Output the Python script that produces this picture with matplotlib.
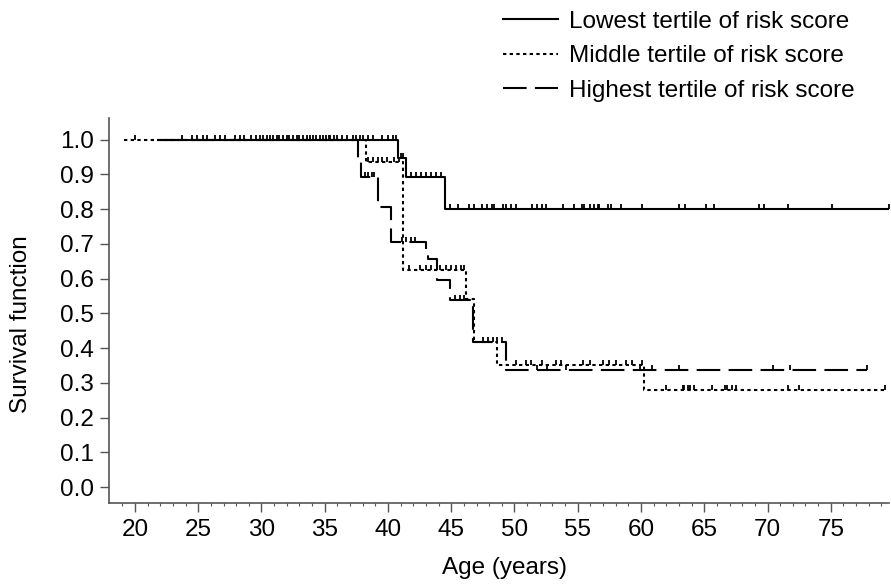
import numpy as np
import matplotlib
matplotlib.use("Agg")
import matplotlib.pyplot as plt
from matplotlib.path import Path
from matplotlib.lines import Line2D

plt.rcParams['font.family'] = ['Liberation Sans', 'DejaVu Sans']
plt.rcParams['lines.scale_dashes'] = False

# ---------------- data ----------------
group_labels = ["Lowest tertile of risk score",
                "Middle tertile of risk score",
                "Highest tertile of risk score"]

low_start, low_end = 21.8, 79.6
low_event_times = [40.8, 41.4, 44.5]
low_levels = [0.947, 0.892, 0.800]
low_censor = [23.7, 25.4, 26.7, 28.3, 29.6, 30.4, 31.2, 32.0, 32.8, 33.6, 34.3, 35.1,
              35.4, 36.4, 37.2, 38.0, 38.4, 38.8, 39.5, 40.0, 40.4, 40.6,
              41.0, 41.2,
              41.8, 42.2, 42.6, 43.0, 43.4, 43.8, 44.2,
              44.9, 45.5, 46.4, 46.8, 47.4, 47.8, 48.2, 48.4, 49.1, 49.3, 49.7, 50.1,
              51.4, 51.8, 52.2, 52.5, 53.8, 54.7, 55.3, 55.5, 56.0, 56.3, 56.6, 56.7,
              57.4, 57.6, 58.4, 60.1, 63.0, 63.5, 65.1, 65.8, 69.3, 69.7, 71.6, 75.1, 79.6]

mid_start, mid_end = 19.1, 79.3
mid_event_times = [38.3, 41.2, 46.2, 46.8, 48.6, 60.2]
mid_levels = [0.935, 0.624, 0.540, 0.418, 0.352, 0.279]
mid_censor = [20.0, 24.5, 25.7, 27.1, 28.6, 29.9, 30.7, 31.4, 32.2, 33.0, 33.8, 34.6,
              35.3, 36.0, 36.8, 37.8,
              38.4, 38.8, 39.2, 39.5, 39.9, 40.5, 40.9,
              41.7, 42.5, 43.0, 43.4, 44.1, 44.6, 45.0, 45.4, 45.8, 46.0,
              47.5, 48.3,
              50.1, 50.9, 51.3, 52.2, 53.3, 53.7, 55.4, 56.0, 57.0, 57.5, 58.0, 58.8,
              59.3, 60.1,
              62.0, 63.3, 63.4, 63.7, 63.9, 64.2, 65.6, 66.6, 66.8, 67.2, 67.5, 71.6,
              72.5, 79.3]

high_start, high_end = 22.0, 77.9
high_event_times = [37.6, 37.9, 39.2, 40.2, 43.0, 43.2, 43.9, 44.9, 46.7, 49.3]
high_levels = [0.947, 0.892, 0.806, 0.706, 0.680, 0.655, 0.596, 0.538, 0.418, 0.337]
high_censor = [24.9, 26.3, 27.9, 29.2, 30.1, 30.9, 31.7, 32.5, 33.3, 34.1, 34.9, 35.7,
               37.5,
               38.2, 38.4, 38.7, 38.9,
               41.1, 41.4, 41.8, 42.1,
               45.3, 45.7, 46.0,
               47.9, 48.6, 49.0,
               51.8, 52.6, 54.1, 59.9, 60.9, 63.0, 70.4, 71.8, 77.9]

x_ticks = [20, 25, 30, 35, 40, 45, 50, 55, 60, 65, 70, 75]
y_ticks = [0.0, 0.1, 0.2, 0.3, 0.4, 0.5, 0.6, 0.7, 0.8, 0.9, 1.0]

# ---------------- figure ----------------
W, H = 891, 584
FS = 17.5
fig = plt.figure(figsize=(W / 100, H / 100), dpi=100)
ax_l, ax_r, ax_b, ax_t = 109, 889, 503, 118
ax = fig.add_axes([ax_l / W, 1 - ax_b / H, (ax_r - ax_l) / W, (ax_b - ax_t) / H])

styles = [dict(linestyle='-'),
          dict(linestyle=(0, (2.4, 2.4))),
          dict(linestyle=(0, (17, 6)))]

tick_marker = Path([(0, 0), (0, 1)])
lw = 1.5

groups = [
    (low_start, low_end, low_event_times, low_levels, low_censor),
    (mid_start, mid_end, mid_event_times, mid_levels, mid_censor),
    (high_start, high_end, high_event_times, high_levels, high_censor),
]

for (start, end, ev, lev, cens), st, lab in zip(groups, styles, group_labels):
    times = np.array([start] + ev + [end])
    vals = np.array([1.0] + lev + [lev[-1]])
    ax.step(times, vals, where='post', color='black', lw=lw, **st)
    c = np.array(cens)
    idx = np.searchsorted(times, c, side='right') - 1
    ax.plot(c, vals[idx], linestyle='none', marker=tick_marker, markersize=7.4,
            markeredgewidth=1.3, color='black')

ax.set_xlim(17.95, 79.6)
ax.set_ylim(-0.046, 1.062)
ax.set_xticks(x_ticks)
ax.set_xticks(np.arange(19, 80, 1), minor=True)
ax.set_yticks(y_ticks)
ax.set_yticklabels([f"{v:.1f}" for v in y_ticks])

for s in ['top', 'right']:
    ax.spines[s].set_visible(False)
for s in ['left', 'bottom']:
    ax.spines[s].set_color('#555555')
    ax.spines[s].set_linewidth(1.2)

ax.tick_params(axis='both', which='major', length=6.5, width=1.0, color='#555555',
               labelsize=FS, labelcolor='black')
ax.tick_params(axis='y', which='major', pad=4.5)
ax.tick_params(axis='x', which='major', pad=5)
ax.tick_params(axis='x', which='minor', length=2.5, width=0.8, color='#555555')

fig.text(504 / W, 1 - 568 / H, "Age (years)", ha='center', va='center', fontsize=FS)
fig.text(21 / W, 1 - 324 / H, "Survival function", ha='center', va='center',
         rotation=90, fontsize=FS)

handles = [Line2D([], [], color='black', lw=lw, **st) for st in styles]
fig.legend(handles, group_labels, loc='upper left',
           bbox_to_anchor=(503 / W, 1 - 10.5 / H), frameon=False, fontsize=FS,
           handlelength=2.25, handletextpad=0.45, labelspacing=0.52, borderpad=0,
           borderaxespad=0)

fig.savefig("out.png", dpi=100)
